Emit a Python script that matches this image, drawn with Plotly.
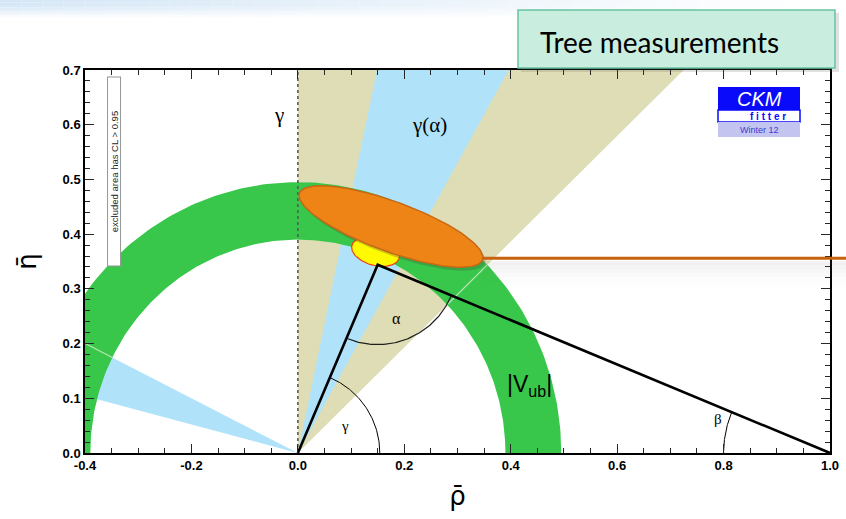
import numpy as np
import plotly.graph_objects as go

# ---------------- data ----------------
x_range = [-0.4, 1.0]
y_range = [0.0, 0.7]
x_ticks = [-0.4, -0.2, 0.0, 0.2, 0.4, 0.6, 0.8, 1.0]
x_ticklabels = ["-0.4", "-0.2", "0.0", "0.2", "0.4", "0.6", "0.8", "1.0"]
y_ticks = [0.0, 0.1, 0.2, 0.3, 0.4, 0.5, 0.6, 0.7]
y_ticklabels = ["0.0", "0.1", "0.2", "0.3", "0.4", "0.5", "0.6", "0.7"]

gamma_band_deg = [44.0, 90.0]          # tan wedge (gamma)
alpha_band_deg = [60.5, 78.0]          # blue wedge gamma(alpha)
mirror_band_deg = [153.4, 165.4]       # blue wedge, second solution
vub_radii = [0.39, 0.495]              # |Vub| annulus
apex = [0.150, 0.344]                  # (rho, eta) of the triangle apex
base_points = [[0.0, 0.0], [1.0, 0.0]]
gamma_arc_r = 0.154
beta_arc_r = 0.20
alpha_arc_r = 0.15
fit_ellipse = dict(center=[0.175, 0.414], axes=[0.183, 0.047], angle=-20.0)
fit_core = dict(center=[0.146, 0.368], axes=[0.046, 0.026], angle=-15.0)
fit_line_eta = 0.356
fit_line_rho_start = 0.347

# ---------------- geometry helpers ----------------
L, R, T, B = 85, 16, 70, 66
W, H = 846, 519
pw, ph = W - L - R, H - T - B
px_per_x = pw / (x_range[1] - x_range[0])
px_per_y = ph / (y_range[1] - y_range[0])


def wedge(a0, a1, r=3.0):
    a = np.radians([a0, a1])
    return [0, r * np.cos(a[0]), r * np.cos(a[1]), 0], [0, r * np.sin(a[0]), r * np.sin(a[1]), 0]


def annulus(r0, r1, n=200):
    t = np.linspace(0, np.pi, n)
    xs = np.concatenate([r1 * np.cos(t), r0 * np.cos(t[::-1]), [r1]])
    ys = np.concatenate([r1 * np.sin(t), r0 * np.sin(t[::-1]), [0]])
    return xs, ys


def arc(c, r, a0, a1, n=80):
    t = np.radians(np.linspace(a0, a1, n))
    return c[0] + r * np.cos(t), c[1] + r * np.sin(t) * px_per_x / px_per_y


def ellipse(e, n=160, dx=0.0, dy=0.0):
    t = np.linspace(0, 2 * np.pi, n)
    u = e["axes"][0] * np.cos(t)
    v = e["axes"][1] * np.sin(t)
    p = np.radians(e["angle"])
    X = u * np.cos(p) - v * np.sin(p)
    Y = u * np.sin(p) + v * np.cos(p)
    return e["center"][0] + X + dx, e["center"][1] + Y * px_per_x / px_per_y + dy


def paper_x(pix):
    return (pix - L) / pw


def paper_y(pix):
    return (H - B - pix) / ph


TAN = "rgb(222,221,181)"
BLUE = "rgb(176,227,250)"
GREEN = "rgb(56,199,74)"

fig = go.Figure()

# wedges
xs, ys = wedge(*gamma_band_deg)
fig.add_trace(go.Scatter(x=xs, y=ys, fill="toself", fillcolor=TAN, line=dict(width=0), mode="lines", hoverinfo="skip"))
xs, ys = wedge(*alpha_band_deg)
fig.add_trace(go.Scatter(x=xs, y=ys, fill="toself", fillcolor=BLUE, line=dict(width=0), mode="lines", hoverinfo="skip"))
xs, ys = wedge(*mirror_band_deg)
fig.add_trace(go.Scatter(x=xs, y=ys, fill="toself", fillcolor=BLUE, line=dict(width=0), mode="lines", hoverinfo="skip"))

# |Vub| annulus
xs, ys = annulus(*vub_radii)
fig.add_trace(go.Scatter(x=xs, y=ys, fill="toself", fillcolor=GREEN, line=dict(width=0), mode="lines", hoverinfo="skip"))

# faint wedge edges through the annulus
for ang in [gamma_band_deg[0], mirror_band_deg[0]]:
    a = np.radians(ang)
    rr = np.array(vub_radii)
    fig.add_trace(go.Scatter(x=rr * np.cos(a), y=rr * np.sin(a), mode="lines",
                             line=dict(color="rgba(230,240,220,0.75)", width=1.2), hoverinfo="skip"))

# dashed gamma boundary at rho = 0
fig.add_trace(go.Scatter(x=[0, 0], y=y_range, mode="lines",
                         line=dict(color="rgb(90,90,90)", width=1.6, dash="3px,3px"), hoverinfo="skip"))

# yellow core of the fit
xs, ys = ellipse(fit_core)
fig.add_trace(go.Scatter(x=xs, y=ys, fill="toself", fillcolor="rgb(255,250,0)",
                         line=dict(color="rgb(240,60,20)", width=1.2), mode="lines", hoverinfo="skip"))

# unitarity triangle
tri_x = [base_points[0][0], apex[0], base_points[1][0]]
tri_y = [base_points[0][1], apex[1], base_points[1][1]]
fig.add_trace(go.Scatter(x=tri_x, y=tri_y, mode="lines", line=dict(color="black", width=2.6), hoverinfo="skip"))

# angle arcs
g_ang = np.degrees(np.arctan2(apex[1] * px_per_y, apex[0] * px_per_x))
xs, ys = arc(base_points[0], gamma_arc_r, 0, g_ang)
fig.add_trace(go.Scatter(x=xs, y=ys, mode="lines", line=dict(color="black", width=1), hoverinfo="skip"))
b_ang = np.degrees(np.arctan2(apex[1] * px_per_y, (apex[0] - 1.0) * px_per_x))
xs, ys = arc(base_points[1], beta_arc_r, b_ang, 180)
fig.add_trace(go.Scatter(x=xs, y=ys, mode="lines", line=dict(color="black", width=1), hoverinfo="skip"))
a_from = np.degrees(np.arctan2(-apex[1] * px_per_y, -apex[0] * px_per_x)) + 360
a_to = np.degrees(np.arctan2(-apex[1] * px_per_y, (1 - apex[0]) * px_per_x)) + 360
xs, ys = arc(apex, alpha_arc_r, a_from, a_to)
fig.add_trace(go.Scatter(x=xs, y=ys, mode="lines", line=dict(color="rgb(30,30,30)", width=1.2), hoverinfo="skip"))

# orange highlight ellipse (with soft shadow)
xs, ys = ellipse(fit_ellipse, dx=2.5 / px_per_x, dy=-3.5 / px_per_y)
fig.add_trace(go.Scatter(x=xs, y=ys, fill="toself", fillcolor="rgba(60,60,60,0.25)",
                         line=dict(width=0), mode="lines", hoverinfo="skip"))
xs, ys = ellipse(fit_ellipse)
fig.add_trace(go.Scatter(x=xs, y=ys, fill="toself", fillcolor="rgb(238,132,22)",
                         line=dict(color="rgb(200,104,20)", width=1.5), mode="lines", hoverinfo="skip"))

annotations = []
serif = "Liberation Serif, DejaVu Serif, serif"
annotations.append(dict(x=-0.036, y=0.617, text="γ", showarrow=False, font=dict(family=serif, size=21, color="black")))
annotations.append(dict(x=0.248, y=0.600, text="γ(α)", showarrow=False, font=dict(family=serif, size=21, color="black")))
annotations.append(dict(x=0.088, y=0.05, text="γ", showarrow=False, font=dict(family=serif, size=15, color="black")))
annotations.append(dict(x=0.79, y=0.062, text="β", showarrow=False, font=dict(family=serif, size=15, color="black")))
annotations.append(dict(x=0.186, y=0.245, text="α", showarrow=False, font=dict(family=serif, size=16, color="black")))
annotations.append(dict(x=0.435, y=0.124, text="|V<sub>ub</sub>|", showarrow=False,
                        font=dict(family="Liberation Sans, Arial, sans-serif", size=23, color="black")))
annotations.append(dict(x=-0.345, y=0.515, text="excluded area has CL > 0.95", showarrow=False, textangle=-90,
                        font=dict(family="Liberation Sans, Arial, sans-serif", size=9.5, color="rgb(40,40,40)"),
                        bgcolor="white", bordercolor="rgb(150,150,150)", borderwidth=1, borderpad=1,
                        width=186, height=10))


def paper_note(px, py, text, font, xanchor="center"):
    annotations.append(dict(xref="paper", yref="paper", x=paper_x(px), y=paper_y(py), text=text,
                            showarrow=False, xanchor=xanchor, yanchor="middle", font=font))


# CKMfitter logo
shapes = []
lx0, lx1 = paper_x(718), paper_x(800)
shapes.append(dict(type="rect", xref="paper", yref="paper", x0=lx0, x1=lx1, y0=paper_y(110), y1=paper_y(87),
                   fillcolor="rgb(10,10,250)", line=dict(width=0)))
shapes.append(dict(type="rect", xref="paper", yref="paper", x0=lx0, x1=lx1, y0=paper_y(122), y1=paper_y(110),
                   fillcolor="white", line=dict(color="rgb(10,10,250)", width=1.5)))
shapes.append(dict(type="rect", xref="paper", yref="paper", x0=lx0, x1=lx1, y0=paper_y(137), y1=paper_y(122),
                   fillcolor="rgb(196,196,240)", line=dict(width=0)))
paper_note(759, 99, "<i>CKM</i>", dict(family="Liberation Sans, Arial", size=20, color="white"))
paper_note(768, 116.5, "<b>f i t t e r</b>", dict(family="Liberation Sans, Arial", size=10, color="rgb(10,10,250)"))
paper_note(759, 130, "Winter 12", dict(family="Liberation Sans, Arial", size=9, color="rgb(60,60,210)"))

# orange pointer line and its shadow
lx_start = paper_x(L + (fit_line_rho_start - x_range[0]) * px_per_x)
line_pix_y = H - B - (fit_line_eta - y_range[0]) * px_per_y
for i, op in enumerate([0.10, 0.08, 0.06, 0.04, 0.025, 0.015]):
    shapes.append(dict(type="rect", xref="paper", yref="paper", x0=lx_start, x1=paper_x(W + 2),
                       y0=paper_y(line_pix_y + 3 + 4 * (i + 1)), y1=paper_y(line_pix_y + 3 + 4 * i),
                       fillcolor=f"rgba(120,120,120,{op})", line=dict(width=0), layer="above"))
shapes.append(dict(type="line", xref="paper", yref="paper", x0=lx_start, x1=paper_x(W + 2),
                   y0=paper_y(line_pix_y), y1=paper_y(line_pix_y), line=dict(color="rgb(200,98,12)", width=3)))

# top banner gradient (horizontal fade, non-overlapping strips)
nseg = 40
for i in range(nseg):
    f = (i + 0.5) / nseg
    op = max(0.0, 1 - 1.05 * f)
    for j, vop in enumerate([1.0, 1.0, 0.9, 0.75, 0.55, 0.35, 0.15]):
        shapes.append(dict(type="rect", xref="paper", yref="paper",
                           x0=paper_x(W * i / nseg), x1=paper_x(W * (i + 1) / nseg),
                           y0=paper_y(j * 2.5 + 2.5), y1=paper_y(j * 2.5),
                           fillcolor=f"rgba(212,230,246,{op * vop:.3f})", line=dict(width=0)))

# "Tree measurements" box
shapes.append(dict(type="rect", xref="paper", yref="paper", x0=paper_x(521), x1=paper_x(839),
                   y0=paper_y(72), y1=paper_y(13), fillcolor="rgba(90,90,90,0.18)", line=dict(width=0)))
shapes.append(dict(type="rect", xref="paper", yref="paper", x0=paper_x(518), x1=paper_x(835),
                   y0=paper_y(68), y1=paper_y(10), fillcolor="rgb(201,237,222)",
                   line=dict(color="rgb(102,196,160)", width=1.5)))
paper_note(538, 42, "Tree measurements", dict(family="Lato, Open Sans, sans-serif", size=28, color="black"),
           xanchor="left")

tickfont = dict(family="Liberation Sans, Arial, sans-serif", size=13, color="black", weight="bold")

fig.update_layout(
    width=W, height=H,
    margin=dict(l=L, r=R, t=T, b=B, autoexpand=False),
    paper_bgcolor="white", plot_bgcolor="white",
    showlegend=False,
    shapes=shapes,
    annotations=annotations,
    xaxis=dict(range=x_range, tickvals=x_ticks, ticktext=x_ticklabels, ticks="inside", ticklen=9,
               tickwidth=1.3, tickcolor="rgb(40,40,40)", showline=True, linecolor="black", linewidth=1.5,
               mirror="ticks", showgrid=False, zeroline=False, tickfont=tickfont, automargin=False,
               minor=dict(dtick=0.05, tick0=0, ticks="inside", ticklen=5, tickcolor="rgb(40,40,40)", showgrid=False),
               title=dict(text="ρ̄", font=dict(family="DejaVu Sans, sans-serif", size=26, color="black"), standoff=14)),
    yaxis=dict(range=y_range, tickvals=y_ticks, ticktext=y_ticklabels, ticks="inside", ticklen=9,
               tickwidth=1.3, tickcolor="rgb(40,40,40)", showline=True, linecolor="black", linewidth=1.5,
               mirror="ticks", showgrid=False, zeroline=False, tickfont=tickfont, automargin=False,
               minor=dict(dtick=0.02, tick0=0, ticks="inside", ticklen=5, tickcolor="rgb(40,40,40)", showgrid=False),
               title=dict(text="η̄", font=dict(family="DejaVu Sans, sans-serif", size=26, color="black"), standoff=18)),
)

fig.write_html("out.html", config={"displayModeBar": False},
               post_script="document.body.style.margin='0px';document.body.style.overflow='hidden';")
